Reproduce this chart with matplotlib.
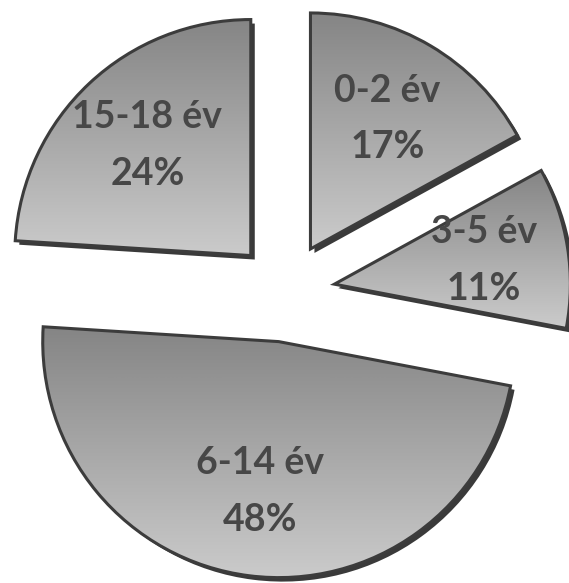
import matplotlib.pyplot as plt
import matplotlib.patches as mpatches
import numpy as np
from matplotlib.colors import LinearSegmentedColormap

# データ
categories = ['0-2 év', '3-5 év', '6-14 év', '15-18 év']
shares = [17, 11, 48, 24]

plt.rcParams['font.family'] = ['Lato', 'DejaVu Sans']

fig = plt.figure(figsize=(5.69, 5.83), dpi=100)
ax = fig.add_axes([0, 0, 1, 1])

labels = [f'{c}\n{s}%' for c, s in zip(categories, shares)]

wedges, texts = ax.pie(
    shares, labels=labels, startangle=90, counterclock=False,
    center=(285, 291), radius=236, explode=[50] * 4,
    labeldistance=0.64, frame=True,
    wedgeprops=dict(facecolor='none', edgecolor='#3c3c3c', linewidth=2.2),
    textprops=dict(ha='center', va='center', fontsize=27, fontweight='bold',
                   color='#474747', linespacing=1.8),
)
ax.set_xlim(0, 569)
ax.set_ylim(0, 583)
ax.axis('off')

# グラデーションと影
cmap = LinearSegmentedColormap.from_list('g', ['#cbcbcb', '#858585'])
grad = np.linspace(0, 1, 256).reshape(-1, 1)
for w in wedges:
    cx, cy = w.center
    shadow = mpatches.Wedge((cx + 4, cy - 4), w.r, w.theta1, w.theta2,
                            facecolor='#3a3a3a', edgecolor='none', zorder=0.5)
    ax.add_patch(shadow)
    bb = w.get_path().get_extents(w.get_patch_transform())
    im = ax.imshow(grad, cmap=cmap, aspect='auto', origin='lower',
                   extent=(bb.x0, bb.x1, bb.y0, bb.y1), zorder=0.8)
    im.set_clip_path(w)
    w.set_zorder(1)
for t in texts:
    t.set_zorder(3)

fig.savefig('out.png', dpi=100)
